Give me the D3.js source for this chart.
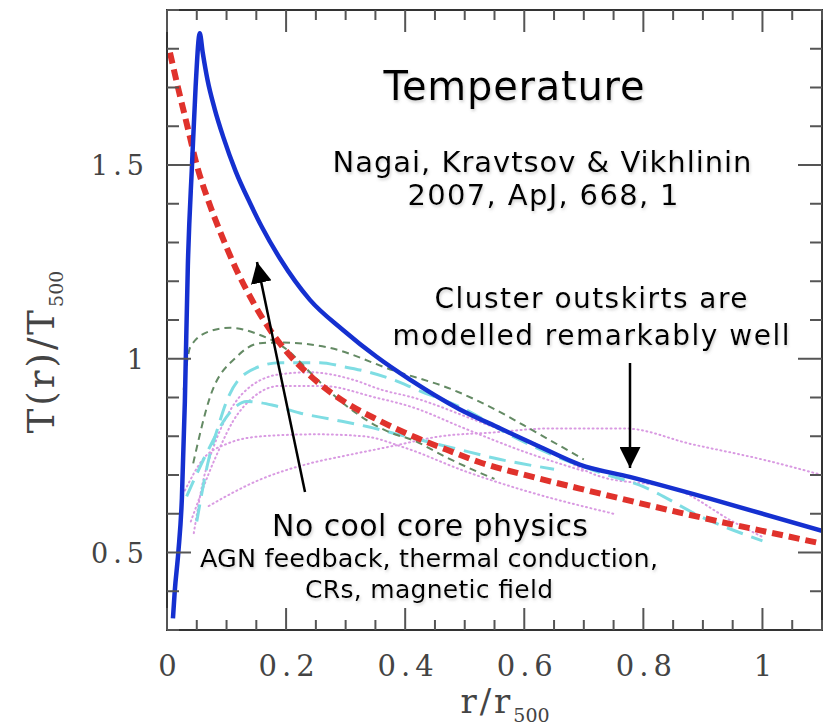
<!DOCTYPE html>
<html>
<head>
<meta charset="utf-8">
<script src="https://cdn.jsdelivr.net/npm/d3@7"></script>
<style>
  body { margin: 0; background: #fff; }
  .tick-label { font-family: "DejaVu Serif", serif; fill: #444; }
  .note { font-family: "DejaVu Sans", sans-serif; fill: #000; text-anchor: middle; }
</style>
</head>
<body>
<svg width="829" height="728"></svg>
<script>
// radial temperature profiles (x = r/r500, y = T/T500)
var blueCurve = [[0.010,0.33],[0.013,0.40],[0.019,0.50],[0.025,0.64],[0.030,0.89],[0.035,1.24],[0.042,1.50],[0.048,1.70],[0.055,1.84],[0.060,1.79],[0.068,1.72],[0.080,1.645],[0.095,1.57],[0.115,1.485],[0.140,1.40],[0.160,1.338],[0.190,1.258],[0.240,1.152],[0.295,1.075],[0.352,1.005],[0.408,0.946],[0.492,0.869],[0.560,0.82],[0.626,0.773],[0.693,0.727],[0.777,0.695],[0.916,0.637],[1.10,0.556]];
var redCurve = [[0.005,1.79],[0.020,1.69],[0.035,1.595],[0.050,1.50],[0.070,1.405],[0.090,1.325],[0.115,1.235],[0.145,1.145],[0.175,1.07],[0.200,1.02],[0.245,0.95],[0.300,0.887],[0.357,0.840],[0.413,0.80],[0.47,0.765],[0.525,0.733],[0.614,0.695],[0.693,0.665],[0.861,0.603],[1.10,0.523]];
var greenCurve1 = [[0.028,0.92],[0.039,1.03],[0.07,1.07],[0.106,1.08],[0.15,1.065],[0.20,1.025],[0.25,0.95],[0.30,0.88],[0.374,0.81],[0.413,0.79],[0.47,0.745],[0.525,0.706],[0.55,0.69]];
var greenCurve2 = [[0.044,0.73],[0.072,0.90],[0.117,1.005],[0.156,1.04],[0.19,1.042],[0.268,1.03],[0.38,0.97],[0.48,0.92],[0.55,0.87],[0.62,0.81],[0.70,0.74]];
var cyanCurve1 = [[0.05,0.58],[0.07,0.74],[0.085,0.82],[0.10,0.89],[0.134,0.964],[0.19,0.99],[0.257,0.99],[0.295,0.98],[0.34,0.965],[0.38,0.946],[0.42,0.92],[0.50,0.87],[0.58,0.80],[0.65,0.75],[0.72,0.71],[0.80,0.67],[0.90,0.59],[1.0,0.53]];
var cyanCurve2 = [[0.033,0.645],[0.072,0.773],[0.10,0.85],[0.134,0.89],[0.178,0.88],[0.223,0.86],[0.279,0.843],[0.336,0.825],[0.40,0.80],[0.48,0.77],[0.56,0.74],[0.65,0.715]];
var magentaCurve1 = [[0.045,0.55],[0.06,0.68],[0.08,0.78],[0.10,0.85],[0.128,0.912],[0.19,0.96],[0.24,0.965],[0.312,0.946],[0.36,0.92],[0.413,0.90],[0.52,0.84],[0.62,0.78],[0.72,0.70],[0.86,0.66],[0.95,0.58],[1.0,0.54]];
var magentaCurve2 = [[0.04,0.58],[0.08,0.74],[0.12,0.86],[0.19,0.93],[0.26,0.93],[0.35,0.90],[0.41,0.876],[0.50,0.82],[0.60,0.76],[0.70,0.71]];
var magentaCurve3 = [[0.03,0.66],[0.06,0.74],[0.10,0.78],[0.16,0.80],[0.25,0.805],[0.33,0.80],[0.40,0.77],[0.50,0.71],[0.60,0.66],[0.75,0.60]];
var magentaCurve4 = [[0.07,0.62],[0.156,0.688],[0.24,0.73],[0.30,0.75],[0.38,0.775],[0.46,0.80],[0.55,0.81],[0.64,0.82],[0.77,0.82],[0.88,0.78],[1.0,0.74],[1.10,0.70]];

var xTickValues = [0, 0.2, 0.4, 0.6, 0.8, 1];
var xTickLabels = ["0", "0.2", "0.4", "0.6", "0.8", "1"];
var yTickValues = [0.5, 1, 1.5];
var yTickLabels = ["0.5", "1", "1.5"];

var svg = d3.select("svg");
var frame = { left: 167, right: 822, top: 10, bottom: 630 };

var x = d3.scaleLinear().domain([0, 1.1]).range([frame.left, frame.right]);
var y = d3.scaleLinear().domain([0.3, 1.9]).range([frame.bottom, frame.top]);

var line = d3.line()
    .x(function (d) { return x(d[0]); })
    .y(function (d) { return y(d[1]); })
    .curve(d3.curveMonotoneX);

var defs = svg.append("defs");
defs.append("clipPath").attr("id", "frame")
    .append("rect").attr("x", frame.left).attr("y", frame.top)
    .attr("width", frame.right - frame.left).attr("height", frame.bottom - frame.top);
defs.append("filter").attr("id", "shadow").attr("x", "-10%").attr("y", "-30%").attr("width", "120%").attr("height", "160%")
    .append("feDropShadow").attr("dx", 1).attr("dy", 2).attr("stdDeviation", 1.5)
    .attr("flood-color", "#888").attr("flood-opacity", 0.4);

var curves = svg.append("g").attr("clip-path", "url(#frame)");

function drawCurve(data, color, width, dash, round) {
    curves.append("path")
        .datum(data)
        .attr("d", line)
        .attr("fill", "none")
        .attr("stroke", color)
        .attr("stroke-width", width)
        .attr("stroke-dasharray", dash)
        .attr("stroke-linecap", round ? "round" : "butt");
}

drawCurve(magentaCurve4, "#d99ae2", 2, "1,3.5", true);
drawCurve(magentaCurve3, "#d99ae2", 2, "1,3.5", true);
drawCurve(magentaCurve2, "#d99ae2", 2, "1,3.5", true);
drawCurve(magentaCurve1, "#d99ae2", 2, "1,3.5", true);
drawCurve(cyanCurve2, "#7fdde3", 3, "17,9");
drawCurve(cyanCurve1, "#7fdde3", 3, "17,9");
drawCurve(greenCurve1, "#648a64", 2, "7,5");
drawCurve(greenCurve2, "#648a64", 2, "7,5");
drawCurve(redCurve, "#e0322c", 6, "11,6");
drawCurve(blueCurve, "#1530d0", 4.5, null);

// frame and inward ticks on all four sides
svg.append("rect")
    .attr("x", frame.left).attr("y", frame.top)
    .attr("width", frame.right - frame.left).attr("height", frame.bottom - frame.top)
    .attr("fill", "none").attr("stroke", "#333").attr("stroke-width", 2);

var xMinor = d3.range(0, 1.1001, 0.05);
var yMinor = d3.range(0.3, 1.9001, 0.1);
function isMajorX(v) { return Math.abs(v / 0.2 - Math.round(v / 0.2)) < 1e-6; }
function isMajorY(v) { return Math.abs(v / 0.5 - Math.round(v / 0.5)) < 1e-6; }

var ticks = svg.append("g").attr("stroke", "#555").attr("stroke-width", 2);
xMinor.forEach(function (v) {
    var len = isMajorX(v) ? 22 : 10;
    ticks.append("line").attr("x1", x(v)).attr("x2", x(v)).attr("y1", frame.bottom).attr("y2", frame.bottom - len);
    ticks.append("line").attr("x1", x(v)).attr("x2", x(v)).attr("y1", frame.top).attr("y2", frame.top + len);
});
yMinor.forEach(function (v) {
    var len = isMajorY(v) ? 24 : 12;
    ticks.append("line").attr("y1", y(v)).attr("y2", y(v)).attr("x1", frame.left).attr("x2", frame.left + len);
    ticks.append("line").attr("y1", y(v)).attr("y2", y(v)).attr("x1", frame.right).attr("x2", frame.right - len);
});

// tick labels
svg.append("g").selectAll("text")
    .data(xTickValues)
    .enter().append("text")
    .attr("class", "tick-label")
    .attr("x", function (d) { return x(d) + 3; })
    .attr("y", 676)
    .attr("text-anchor", "middle")
    .style("font-size", "29px")
    .style("letter-spacing", "5px")
    .text(function (d, i) { return xTickLabels[i]; });

svg.append("g").selectAll("text")
    .data(yTickValues)
    .enter().append("text")
    .attr("class", "tick-label")
    .attr("x", 149)
    .attr("y", function (d) { return y(d) + 10; })
    .attr("text-anchor", "end")
    .style("font-size", "27px")
    .style("letter-spacing", "5px")
    .text(function (d, i) { return yTickLabels[i]; });

// axis titles
var xt = svg.append("text").attr("class", "tick-label")
    .attr("x", 505).attr("y", 713).attr("text-anchor", "middle")
    .style("font-size", "34px").style("letter-spacing", "3px");
xt.append("tspan").text("r/r");
xt.append("tspan").attr("dy", 9).style("font-size", "19px").style("letter-spacing", "0px").text("500");

var yt = svg.append("text").attr("class", "tick-label")
    .attr("transform", "translate(54,352) rotate(-90)")
    .attr("text-anchor", "middle")
    .style("font-size", "37px").style("letter-spacing", "3px");
yt.append("tspan").text("T(r)/T");
yt.append("tspan").attr("dy", 9).style("font-size", "19px").style("letter-spacing", "0px").text("500");

// annotations: text, centre x, baseline y, font size, width in the reference
var notes = [
    ["Temperature", 514, 100, 40, 261],
    ["Nagai, Kravtsov & Vikhlinin", 542, 172, 29, 419],
    ["2007, ApJ, 668, 1", 543, 205, 29, 271],
    ["Cluster outskirts are", 591, 308, 28, 313],
    ["modelled remarkably well", 591, 345, 28, 397],
    ["No cool core physics", 430, 536, 30, 316],
    ["AGN feedback, thermal conduction,", 429, 567, 25.5, 458],
    ["CRs, magnetic field", 429, 598, 25, 248]
];
svg.append("g").attr("filter", "url(#shadow)").selectAll("text")
    .data(notes)
    .enter().append("text")
    .attr("class", "note")
    .attr("x", function (d) { return d[1]; })
    .attr("y", function (d) { return d[2]; })
    .attr("textLength", function (d) { return d[4]; })
    .attr("lengthAdjust", "spacing")
    .style("font-size", function (d) { return d[3] + "px"; })
    .text(function (d) { return d[0]; });

// arrows
defs.append("marker")
    .attr("id", "head").attr("viewBox", "0 0 10 10")
    .attr("refX", 10).attr("refY", 5)
    .attr("markerUnits", "userSpaceOnUse")
    .attr("markerWidth", 21).attr("markerHeight", 21)
    .attr("orient", "auto")
    .append("path").attr("d", "M0,0L10,5L0,10Z").attr("fill", "#000");

var arrows = [[305, 492, 257, 262], [630, 363, 630, 468]];
svg.append("g").selectAll("line")
    .data(arrows)
    .enter().append("line")
    .attr("x1", function (d) { return d[0]; })
    .attr("y1", function (d) { return d[1]; })
    .attr("x2", function (d) { return d[2]; })
    .attr("y2", function (d) { return d[3]; })
    .attr("stroke", "#000").attr("stroke-width", 2.5)
    .attr("marker-end", "url(#head)");
</script>
</body>
</html>
